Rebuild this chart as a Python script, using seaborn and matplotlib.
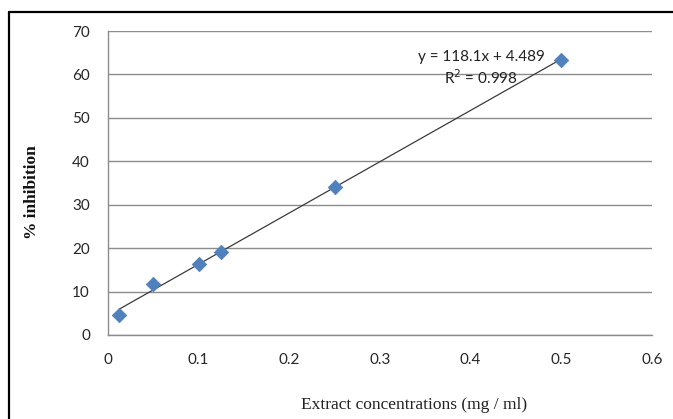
import numpy as np
import pandas as pd
import matplotlib
matplotlib.use('Agg')
import matplotlib.pyplot as plt
from matplotlib.lines import Line2D
import seaborn as sns

# data
conc = [0.0125, 0.05, 0.1, 0.125, 0.25, 0.5]
inhib = [4.7, 11.7, 16.3, 19.1, 34.0, 63.4]
slope = 118.1
intercept = 4.489
r2 = 0.998

df = pd.DataFrame({'conc': conc, 'inhib': inhib})
fit = pd.DataFrame({'conc': [min(conc), max(conc)]})
fit['inhib'] = slope * fit['conc'] + intercept

sns.set_style('white')
plt.rcParams['font.family'] = ['Lato', 'DejaVu Sans']

fig = plt.figure(figsize=(6.73, 4.19), dpi=100)
ax = fig.add_axes([108/673, 1-335/419, 544/673, 304/419])

sns.lineplot(x='conc', y='inhib', data=fit, ax=ax, color='#3a3a3a', linewidth=0.9, zorder=2)
sns.scatterplot(x='conc', y='inhib', data=df, ax=ax, marker='D', s=55,
                color='#4F81BD', edgecolor='#4F81BD', linewidth=0.5, zorder=3)

ax.set_xlim(0, 0.6)
ax.set_ylim(0, 70)
ax.set_xticks(np.arange(0, 0.61, 0.1))
ax.set_xticklabels(['0', '0.1', '0.2', '0.3', '0.4', '0.5', '0.6'])
ax.set_yticks(range(0, 71, 10))
ax.grid(axis='y', color='#8c8c8c', linewidth=1)
ax.set_axisbelow(True)
for s in ['top', 'right']:
    ax.spines[s].set_visible(False)
for s in ['left', 'bottom']:
    ax.spines[s].set_color('#8c8c8c')
    ax.spines[s].set_linewidth(1)
ax.tick_params(axis='both', length=5, width=1, color='#8c8c8c', labelsize=11,
               labelcolor='#262626', direction='out')
ax.tick_params(axis='x', pad=8)
ax.tick_params(axis='y', pad=8)

ax.set_xlabel('Extract concentrations (mg / ml)', family='Liberation Serif', fontsize=12.5, color='#222222')
ax.set_ylabel('% inhibition', family='Liberation Serif', fontsize=12.5, fontweight='bold', color='#111111')
ax.xaxis.set_label_coords(0.5625, -0.205)
ax.yaxis.set_label_coords(-0.125, 0.47)

fig.text(481/673, 1-57/419, f'y = {slope}x + {intercept}', fontsize=11,
         ha='center', va='center', color='#222222')
fig.text(481/673, 1-78/419, f'R$^2$ = {r2}', fontsize=11, ha='center', va='center', color='#222222')

# outer frame, top and left edges
fig.add_artist(Line2D([9/673, 1], [1-12/419, 1-12/419], transform=fig.transFigure, color='black', linewidth=1.6))
fig.add_artist(Line2D([9/673, 9/673], [0, 1-12/419], transform=fig.transFigure, color='black', linewidth=1.6))

fig.savefig('out.png', dpi=100)
